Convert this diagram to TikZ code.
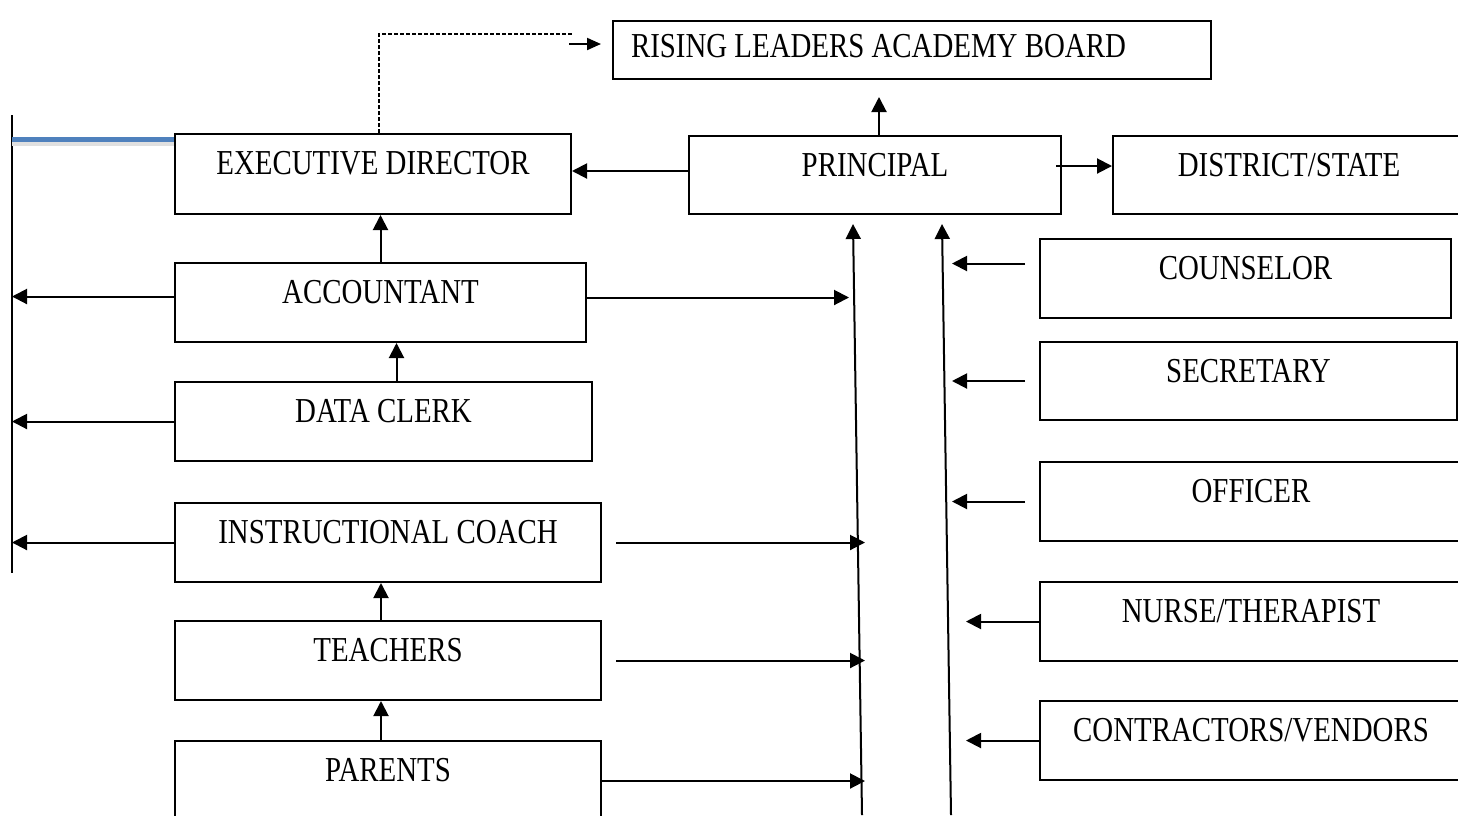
\documentclass[tikz,border=0pt]{standalone}
\usepackage{fontspec}
\setmainfont{Liberation Serif}[FakeStretch=0.825]
\usetikzlibrary{arrows.meta,calc}
\definecolor{bluel}{RGB}{79,129,189}
\begin{document}
\begin{tikzpicture}[x=1pt,y=-1pt,
  box/.style={draw,line width=2pt,inner xsep=0pt,inner ysep=0pt,anchor=north west,
    font=\fontsize{35}{38}\selectfont,text height=40pt,text depth=40pt},
  ln/.style={line width=2pt},
  arr/.style={line width=2pt,-{Triangle[length=15pt,width=15pt]}},
  sarr/.style={line width=2pt,-{Triangle[length=14pt,width=12pt]}},
  dsh/.style={line width=1.1pt,dash pattern=on 4pt off 2pt}]
\useasboundingbox (0,0) rectangle (1458,815);
\clip (0,0) rectangle (1458,815);

% boxes
\node[box,text height=36pt,text depth=22pt,align=flush left,text width=562pt,inner xsep=18pt] (bd) at (612,20) {RISING LEADERS ACADEMY BOARD};
\node[box,minimum width=396pt] (ed) at (174,133) {EXECUTIVE DIRECTOR};
\node[box,minimum width=372pt,text depth=38pt] (pr) at (688,135) {PRINCIPAL};
\node[box,minimum width=352pt,text depth=38pt] (ds) at (1112,135) {DISTRICT/STATE};
\node[box,minimum width=411pt,text depth=39pt] (ac) at (174,262) {ACCOUNTANT};
\node[box,minimum width=417pt,text depth=39pt] (dc) at (174,381) {DATA CLERK};
\node[box,minimum width=426pt,text depth=39pt] (ic) at (174,502) {INSTRUCTIONAL COACH};
\node[box,minimum width=426pt,text depth=39pt] (te) at (174,620) {TEACHERS};
\node[box,minimum width=426pt] (pa) at (174,740) {PARENTS};
\node[box,minimum width=411pt,text depth=39pt] (co) at (1039,238) {COUNSELOR};
\node[box,minimum width=417pt,text depth=38pt] (se) at (1039,341) {SECRETARY};
\node[box,minimum width=422pt,text depth=39pt] (of) at (1039,461) {OFFICER};
\node[box,minimum width=422pt,text depth=39pt] (nu) at (1039,581) {NURSE/THERAPIST};
\node[box,minimum width=422pt,text depth=39pt] (ct) at (1039,700) {CONTRACTORS/VENDORS};

% left bus and blue line
\coordinate (lt) at (12,115);
\coordinate (lb) at (12,573);
\draw[ln] (lt) -- (lb);
\coordinate (e2) at ([yshift=-6pt]ed.north west);
\coordinate (e3) at (e2 -| lt);
\draw[line width=5pt,black!12,transform canvas={yshift=-4pt}] (e3) -- (e2);
\draw[line width=5pt,bluel] (e3) -- (e2);

% dashed link to board
\coordinate (e1) at ([xshift=6pt]ed.north);
\draw[dsh] (e1) -- ++(0,-99) -- ++(194,0);
\coordinate (b1) at ([xshift=-11pt,yshift=6pt]bd.west);
\draw[sarr] (b1) ++(-32,0) -- (b1);

% principal links
\coordinate (p0) at ([yshift=4pt]pr.west);
\draw[arr] (p0) -- (p0 -| ed.east);
\coordinate (p1) at ([xshift=4pt]pr.north);
\draw[arr,shorten >=17pt] (p1) -- (p1 |- bd.south);
\coordinate (p2) at ([xshift=-6pt,yshift=9pt]pr.east);
\draw[arr] (p2) -- (p2 -| ds.west);

% left column vertical links
\draw[arr] (ac.north) -- (ac.north |- ed.south);
\coordinate (d1) at ([xshift=13pt]dc.north);
\draw[arr] (d1) -- (d1 |- ac.south);
\coordinate (t1) at ([xshift=-7pt]te.north);
\draw[arr] (t1) -- (t1 |- ic.south);
\coordinate (q1) at ([xshift=-7pt]pa.north);
\draw[arr] (q1) -- (q1 |- te.south);

% left column to bus
\coordinate (a1) at ([yshift=6pt]ac.west);
\draw[arr] (a1) -- (a1 -| lt);
\draw[arr] (dc.west) -- (dc.west -| lt);
\draw[arr] (ic.west) -- (ic.west -| lt);

% slanted lines into principal
\coordinate (l1t) at ($(pr.south west)+(165,9)$);
\coordinate (l1b) at (862,815);
\coordinate (l2t) at ($(pr.south west)+(254,9)$);
\coordinate (l2b) at (951,815);
\draw[arr] (l1b) -- (l1t);
\draw[arr] (l2b) -- (l2t);

% left column to first slanted line
\coordinate (a2) at ([yshift=5pt]ac.east);
\path (a2) ++(262,0) coordinate (a2t);
\draw[arr] (a2) -- (a2t);
\coordinate (i1) at ([xshift=14pt]ic.east);
\path (i1) ++(249,0) coordinate (i1t);
\draw[arr] (i1) -- (i1t);
\coordinate (t2) at ([xshift=14pt]te.east);
\path (t2) ++(249,0) coordinate (t2t);
\draw[arr] (t2) -- (t2t);
\path (pa.east) ++(263,0) coordinate (pat);
\draw[arr] (pa.east) -- (pat);

% right column to second slanted line
\coordinate (c1) at ([xshift=-14pt,yshift=15pt]co.west);
\path (c1) ++(-73,0) coordinate (c1t);
\draw[arr] (c1) -- (c1t);
\coordinate (s1) at ([xshift=-14pt]se.west);
\path (s1) ++(-73,0) coordinate (s1t);
\draw[arr] (s1) -- (s1t);
\coordinate (o1) at ([xshift=-14pt]of.west);
\path (o1) ++(-73,0) coordinate (o1t);
\draw[arr] (o1) -- (o1t);
\path (nu.west) ++(-73,0) coordinate (nut);
\draw[arr] (nu.west) -- (nut);
\path (ct.west) ++(-73,0) coordinate (ctt);
\draw[arr] (ct.west) -- (ctt);
\end{tikzpicture}
\end{document}
